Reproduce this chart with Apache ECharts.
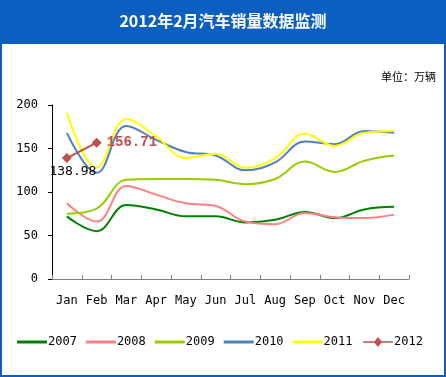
<!DOCTYPE html>
<html>
<head>
<meta charset="utf-8">
<script src="https://cdn.jsdelivr.net/npm/echarts@6/dist/echarts.min.js"></script>
<style>
    html, body {margin: 0; padding: 0; background: #fff;}
    #chart {width: 446px; height: 377px;}
</style>
</head>
<body>
<div id="chart"></div>
<script>
// months on the x axis
let months = ['Jan', 'Feb', 'Mar', 'Apr', 'May', 'Jun', 'Jul', 'Aug', 'Sep', 'Oct', 'Nov', 'Dec'];

// monthly sales, 10k units
let sales2007 = [72, 55, 85, 80, 72, 72, 65, 68, 77, 70, 80, 83];
let sales2008 = [87, 66, 107, 97, 87, 84, 66, 63, 76, 71, 70, 74];
let sales2009 = [75, 81, 114, 115, 115, 114, 109, 115, 135, 123, 136, 142];
let sales2010 = [168, 122, 176, 160, 146, 142, 125, 134, 158, 155, 170, 168];
let sales2011 = [191, 128, 184, 164, 139, 144, 128, 139, 167, 153, 168, 170];
let sales2012 = [138.98, 156.71];

let yTicks = [0, 50, 100, 150, 200];

let myChart = echarts.init(document.getElementById('chart'));

let labelFont = '"DejaVu Sans Mono", "Liberation Mono", monospace';
let legendText = {color: '#000', fontSize: 12, fontFamily: labelFont, padding: [0, 0, 0, -4]};

function smoothLine(name, data, color) {
    return {
        name: name,
        type: 'line',
        smooth: 0.4,
        symbol: 'none',
        data: data,
        lineStyle: {color: color, width: 2},
        itemStyle: {color: color},
        z: 2
    };
}

let option = {
    animation: false,
    backgroundColor: '#fff',
    graphic: [
        {
            type: 'rect',
            shape: {x: 1, y: 1, width: 444, height: 375},
            style: {fill: 'none', stroke: '#0b5fc0', lineWidth: 2},
            z: 0
        },
        {
            type: 'rect',
            shape: {x: 0, y: 0, width: 446, height: 44},
            style: {fill: '#0b5fc0'},
            z: 1
        },
        {
            type: 'text',
            left: 'center',
            top: 13,
            style: {
                text: '2012年2月汽车销量数据监测',
                fill: '#fff',
                font: 'bold 16px "Noto Sans CJK SC", sans-serif'
            },
            z: 2
        },
        {
            type: 'text',
            right: 10,
            top: 71,
            style: {
                text: '单位：万辆',
                fill: '#000',
                font: '11px "Noto Sans CJK SC", sans-serif'
            },
            z: 2
        }
    ],
    legend: [
        {
            top: 331,
            left: 12,
            itemWidth: 30,
            itemHeight: 3,
            itemGap: 9,
            textStyle: legendText,
            data: [
                {name: '2007', icon: 'rect'},
                {name: '2008', icon: 'rect'},
                {name: '2009', icon: 'rect'},
                {name: '2010', icon: 'rect'},
                {name: '2011', icon: 'rect'}
            ]
        },
        {
            top: 331,
            left: 358,
            itemWidth: 30,
            itemHeight: 10,
            textStyle: legendText,
            data: [
                {name: '2012', icon: 'path://M0,4.2L11.5,4.2L15,0L18.5,4.2L30,4.2L30,5.8L18.5,5.8L15,10L11.5,5.8L0,5.8Z'}
            ]
        }
    ],
    grid: {left: 52, right: 37, top: 105, bottom: 98},
    xAxis: {
        type: 'category',
        data: months,
        boundaryGap: true,
        axisLine: {lineStyle: {color: '#808080', width: 1}},
        axisTick: {show: true, inside: true, length: 4, lineStyle: {color: '#808080'}},
        axisLabel: {color: '#000', fontSize: 12, fontFamily: labelFont, margin: 16}
    },
    yAxis: {
        type: 'value',
        min: yTicks[0],
        max: yTicks[yTicks.length - 1],
        interval: 50,
        axisLine: {show: true, lineStyle: {color: '#000', width: 1}},
        axisTick: {show: true, inside: false, length: 4, lineStyle: {color: '#000'}},
        axisLabel: {color: '#000', fontSize: 12, fontFamily: labelFont, margin: 14},
        splitLine: {show: false}
    },
    series: [
        smoothLine('2007', sales2007, '#008000'),
        smoothLine('2008', sales2008, '#ff8080'),
        smoothLine('2009', sales2009, '#99cc00'),
        smoothLine('2010', sales2010, '#4f81bd'),
        smoothLine('2011', sales2011, '#ffff00'),
        {
            name: '2012',
            type: 'line',
            data: [
                {
                    value: sales2012[0],
                    label: {
                        show: true, position: 'bottom', offset: [6, -3],
                        color: '#000', fontSize: 13, fontFamily: labelFont
                    }
                },
                {
                    value: sales2012[1],
                    label: {
                        show: true, position: 'right', offset: [0, 0],
                        color: '#c0504d', fontSize: 14, fontWeight: 'bold',
                        fontFamily: '"Liberation Mono", "DejaVu Sans Mono", monospace'
                    }
                }
            ],
            symbol: 'diamond',
            symbolSize: 10,
            lineStyle: {color: '#c0504d', width: 2},
            itemStyle: {color: '#c0504d'},
            z: 5
        }
    ]
};

myChart.setOption(option);
</script>
</body>
</html>
